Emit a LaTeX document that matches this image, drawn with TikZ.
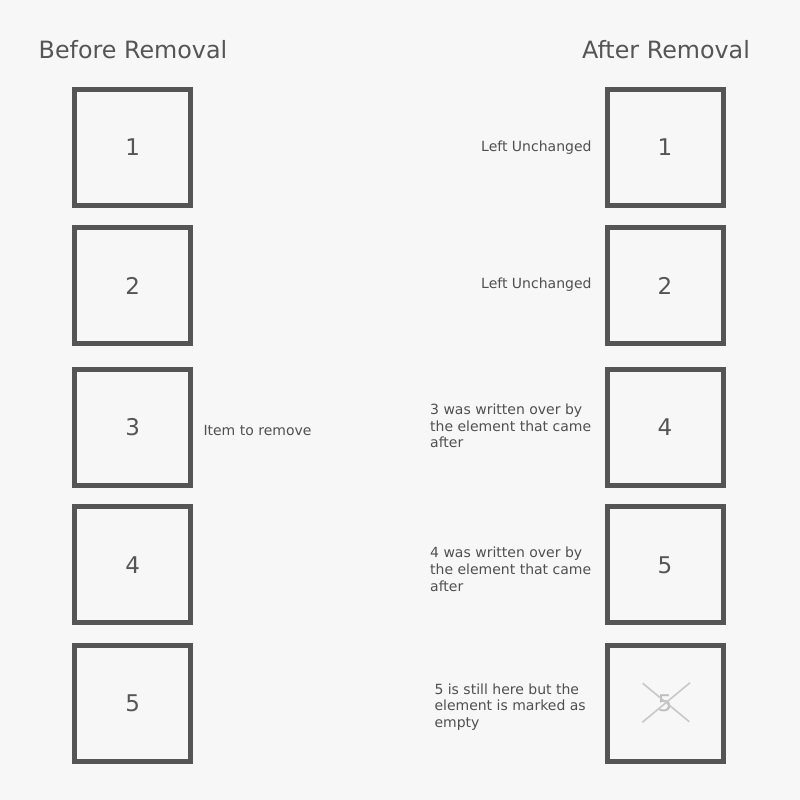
\documentclass[tikz,border=0pt]{standalone}
\usepackage{fontspec}
\setmainfont{DejaVu Sans}
\definecolor{bgc}{HTML}{F7F7F7}
\definecolor{ink}{HTML}{555555}
\definecolor{txt}{HTML}{505050}
\definecolor{faded}{HTML}{BDBDBD}
\definecolor{crossc}{HTML}{C8C8C8}
\newcommand\multitext[1]{\begin{tabular}[t]{@{}l@{}}#1\end{tabular}}
\begin{document}
\begin{tikzpicture}[x=1pt,y=-1pt,
  cell/.style={draw=ink,line width=5pt,minimum size=116pt,inner sep=0pt,
    text=ink,font=\fontsize{23}{27}\selectfont},
  title/.style={anchor=base,inner sep=0pt,text=ink,font=\fontsize{23.8}{28}\selectfont},
  note/.style={anchor=base west,inner sep=0pt,text=txt,font=\fontsize{14}{16.7}\selectfont}]
\fill[bgc] (0,0) rectangle (800,800);
\useasboundingbox (0,0) rectangle (800,800);
% titles
\node[title] (tb) at (133,59) {Before Removal};
\node[title] (ta) at (666,58.5) {After Removal};
% before
\node[cell] (l1) at (132.7,147.6) {1};
\node[cell] (l2) at (132.7,285.7) {2};
\node[cell] (l3) at (132.7,427) {3};
\node[cell] (l4) at (132.7,564.8) {4};
\node[cell] (l5) at (132.7,703) {5};
% after
\node[cell] (r1) at (665,147.6) {1};
\node[cell] (r2) at (665,285.7) {2};
\node[cell] (r3) at (665,427) {4};
\node[cell] (r4) at (665,564.8) {5};
\node[cell,text=faded] (r5) at (665,703) {5};
% cross over the emptied element
\coordinate (c1) at (642.7,683.3);
\coordinate (c2) at (689.3,721.7);
\coordinate (c3) at (690,682.7);
\coordinate (c4) at (642.3,722.3);
\draw[crossc,line width=1.6pt] (c1) -- (c2);
\draw[crossc,line width=1.6pt] (c3) -- (c4);
% notes
\node[note] (n3) at (203.3,435) {Item to remove};
\node[note] (m1) at (481,151.5) {Left Unchanged};
\node[note] (m2) at (481,288.5) {Left Unchanged};
\node[note] (m3) at (430,414.3) {\multitext{3 was written over by\\the element that came\\after}};
\node[note] (m4) at (430,557.7) {\multitext{4 was written over by\\the element that came\\after}};
\node[note] (m5) at (434.3,694) {\multitext{5 is still here but the\\element is marked as\\empty}};
\end{tikzpicture}
\end{document}
